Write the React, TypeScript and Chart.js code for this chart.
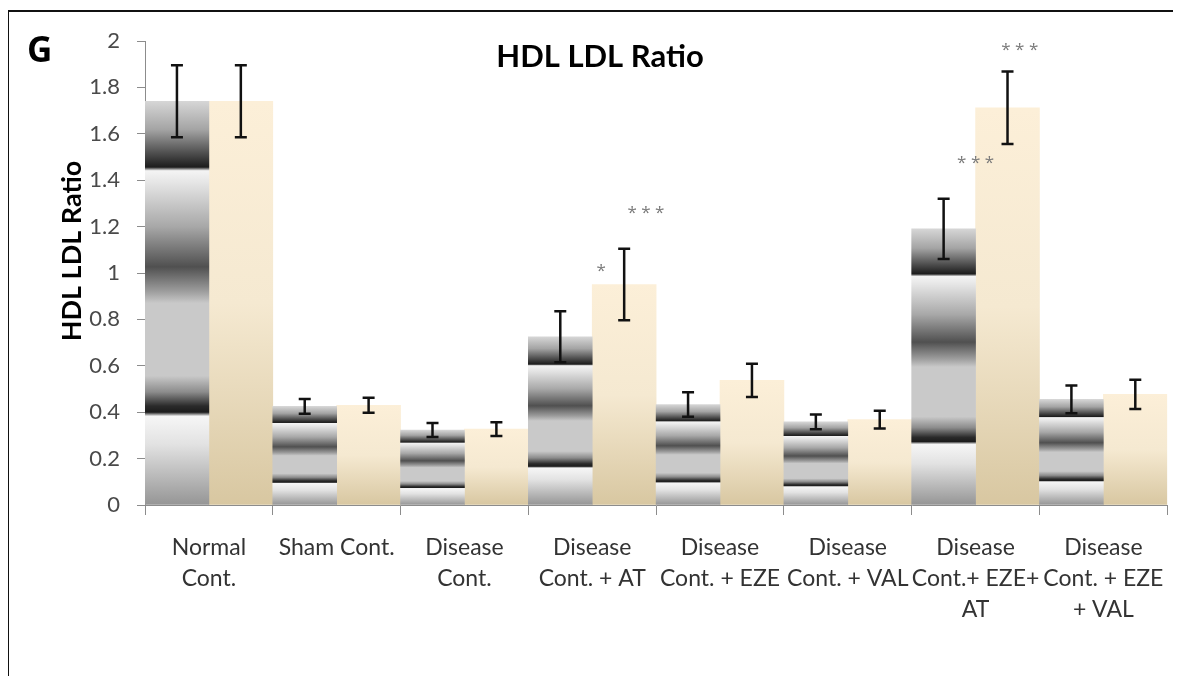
import { useEffect, useRef } from "react";
import { Chart, registerables } from "chart.js";

Chart.register(...registerables);

const categories: string[][] = [
  ["Normal", "Cont."],
  ["Sham Cont."],
  ["Disease", "Cont."],
  ["Disease", "Cont. + AT"],
  ["Disease", "Cont. + EZE"],
  ["Disease", "Cont. + VAL"],
  ["Disease", "Cont.+ EZE+", "AT"],
  ["Disease", "Cont. + EZE", "+ VAL"],
];

const grayValues = [1.74, 0.425, 0.323, 0.725, 0.433, 0.358, 1.19, 0.455];
const grayErrors = [0.155, 0.032, 0.03, 0.11, 0.053, 0.032, 0.13, 0.06];
const beigeValues = [1.74, 0.43, 0.327, 0.95, 0.537, 0.368, 1.712, 0.477];
const beigeErrors = [0.155, 0.032, 0.03, 0.154, 0.072, 0.038, 0.156, 0.063];

const yMin = 0;
const yMax = 2;
const yStep = 0.2;

const chartTitle = "HDL LDL Ratio";
const yTitle = "HDL LDL Ratio";
const panelLabel = "G";

// significance marks: category index, horizontal offset (fraction of category), value level, text
const markCategory = [3, 3, 6, 6];
const markOffset = [0.07, 0.42, 0.0, 0.346];
const markValue = [1.03, 1.282, 1.497, 1.983];
const markText = ["*", "* * *", "* * *", "* * *"];

const grayStops: [number, string][] = [
  [0, "#d6d6d6"],
  [0.07, "#a4a4a4"],
  [0.13, "#4c4c4c"],
  [0.163, "#1c1c1c"],
  [0.172, "#f4f4f4"],
  [0.2, "#e6e6e6"],
  [0.31, "#a8a8a8"],
  [0.41, "#505050"],
  [0.47, "#9c9c9c"],
  [0.5, "#c9c9c9"],
  [0.68, "#c9c9c9"],
  [0.72, "#8c8c8c"],
  [0.755, "#2a2a2a"],
  [0.77, "#1c1c1c"],
  [0.78, "#f6f6f6"],
  [0.85, "#e2e2e2"],
  [1, "#959595"],
];

const beigeStops: [number, string][] = [
  [0, "#fcefd8"],
  [0.5, "#f5e9d1"],
  [1, "#d8c7a1"],
];

function makeFill(stops: [number, string][], fallback: string) {
  return (ctx: any) => {
    const chart = ctx.chart;
    const { chartArea, scales } = chart;
    if (!chartArea || ctx.type !== "data" || typeof ctx.raw !== "number") return fallback;
    const top = scales.y.getPixelForValue(ctx.raw);
    const bot = scales.y.getPixelForValue(0);
    if (!isFinite(top) || !isFinite(bot) || bot - top < 1) return fallback;
    const g = chart.ctx.createLinearGradient(0, top, 0, bot);
    stops.forEach(([o, c]) => g.addColorStop(o, c));
    return g;
  };
}

const errorsByDataset = [grayErrors, beigeErrors];
const valuesByDataset = [grayValues, beigeValues];

const overlayPlugin = {
  id: "overlay",
  beforeDraw(chart: any) {
    const { ctx, width, height } = chart;
    ctx.save();
    ctx.fillStyle = "#ffffff";
    ctx.fillRect(0, 0, width, height);
    ctx.strokeStyle = "#111111";
    ctx.lineWidth = 2;
    ctx.beginPath();
    ctx.moveTo(8, height + 2);
    ctx.lineTo(8, 11);
    ctx.lineTo(width + 2, 11);
    ctx.stroke();
    ctx.restore();
  },
  afterDatasetsDraw(chart: any) {
    const { ctx, scales } = chart;
    const y = scales.y;
    const x = scales.x;
    ctx.save();
    // error bars
    ctx.strokeStyle = "#111111";
    ctx.lineWidth = 2.5;
    ctx.lineCap = "butt";
    for (let d = 0; d < 2; d++) {
      const meta = chart.getDatasetMeta(d);
      meta.data.forEach((bar: any, i: number) => {
        const v = valuesByDataset[d][i];
        const e = errorsByDataset[d][i];
        const cx = bar.x;
        const yt = y.getPixelForValue(v + e);
        const yb = y.getPixelForValue(v - e);
        ctx.beginPath();
        ctx.moveTo(cx, yt);
        ctx.lineTo(cx, yb);
        ctx.moveTo(cx - 6, yt);
        ctx.lineTo(cx + 6, yt);
        ctx.moveTo(cx - 6, yb);
        ctx.lineTo(cx + 6, yb);
        ctx.stroke();
      });
    }
    // significance marks
    const catW = (x.right - x.left) / categories.length;
    ctx.fillStyle = "#7a7a7a";
    ctx.font = "17px 'Open Sans', Lato, sans-serif";
    ctx.textAlign = "center";
    ctx.textBaseline = "alphabetic";
    for (let k = 0; k < markText.length; k++) {
      const px = x.getPixelForValue(markCategory[k]) + markOffset[k] * catW;
      const py = y.getPixelForValue(markValue[k]);
      ctx.fillText(markText[k], px, py + 10);
    }
    ctx.restore();
  },
  afterDraw(chart: any) {
    const { ctx } = chart;
    ctx.save();
    ctx.fillStyle = "#000000";
    ctx.textBaseline = "alphabetic";
    ctx.textAlign = "left";
    ctx.font = "bold 35px 'Open Sans', Lato, sans-serif";
    ctx.fillText(panelLabel, 27, 62);
    ctx.textAlign = "center";
    ctx.font = "bold 31px Lato, 'Open Sans', sans-serif";
    ctx.fillText(chartTitle, 600, 67);
    ctx.translate(72, 251);
    ctx.rotate(-Math.PI / 2);
    ctx.font = "bold 27px Lato, 'Open Sans', sans-serif";
    ctx.textBaseline = "middle";
    ctx.fillText(yTitle, 0, 0);
    ctx.restore();
  },
};

export default function App() {
  const ref = useRef<HTMLCanvasElement | null>(null);
  useEffect(() => {
    if (!ref.current) return;
    const chart = new Chart(ref.current, {
      type: "bar",
      data: {
        labels: categories,
        datasets: [
          {
            data: grayValues,
            backgroundColor: makeFill(grayStops, "#aaaaaa"),
            borderWidth: 0,
            categoryPercentage: 1,
            barPercentage: 1,
          },
          {
            data: beigeValues,
            backgroundColor: makeFill(beigeStops, "#f3e6cc"),
            borderWidth: 0,
            categoryPercentage: 1,
            barPercentage: 1,
          },
        ],
      },
      options: {
        responsive: false,
        animation: false,
        events: [],
        layout: { padding: { top: 41, right: 10, left: 0, bottom: 0 } },
        plugins: {
          legend: { display: false },
          tooltip: { enabled: false },
          title: { display: false },
        },
        scales: {
          x: {
            grid: {
              display: true,
              drawOnChartArea: false,
              drawTicks: true,
              tickLength: 10,
              color: "#8c8c8c",
              offset: true,
            },
            border: { display: true, color: "#8c8c8c", width: 1 },
            ticks: {
              color: "#333333",
              padding: 17,
              maxRotation: 0,
              minRotation: 0,
              autoSkip: false,
              font: { family: "Lato, 'Open Sans', sans-serif", size: 23, lineHeight: 1.35 },
            },
            afterFit(scale: any) {
              scale.height = 179;
            },
          },
          y: {
            min: yMin,
            max: yMax,
            grid: {
              display: true,
              drawOnChartArea: false,
              drawTicks: true,
              tickLength: 8,
              color: "#8c8c8c",
            },
            border: { display: true, color: "#8c8c8c", width: 1 },
            ticks: {
              stepSize: yStep,
              color: "#4a4a4a",
              padding: 17,
              font: { family: "Lato, 'Open Sans', sans-serif", size: 22 },
              callback: (v: any) => String(Number(Number(v).toFixed(1))),
            },
            afterFit(scale: any) {
              scale.width = 145;
            },
          },
        },
      },
      plugins: [overlayPlugin],
    });
    return () => chart.destroy();
  }, []);

  return (
    <div style={{ position: "relative", width: 1181, height: 684, margin: -8, overflow: "hidden", background: "#ffffff" }}>
      <canvas ref={ref} width={1181} height={684} style={{ position: "absolute", left: 0, top: 0, width: 1181, height: 684 }} />
    </div>
  );
}
